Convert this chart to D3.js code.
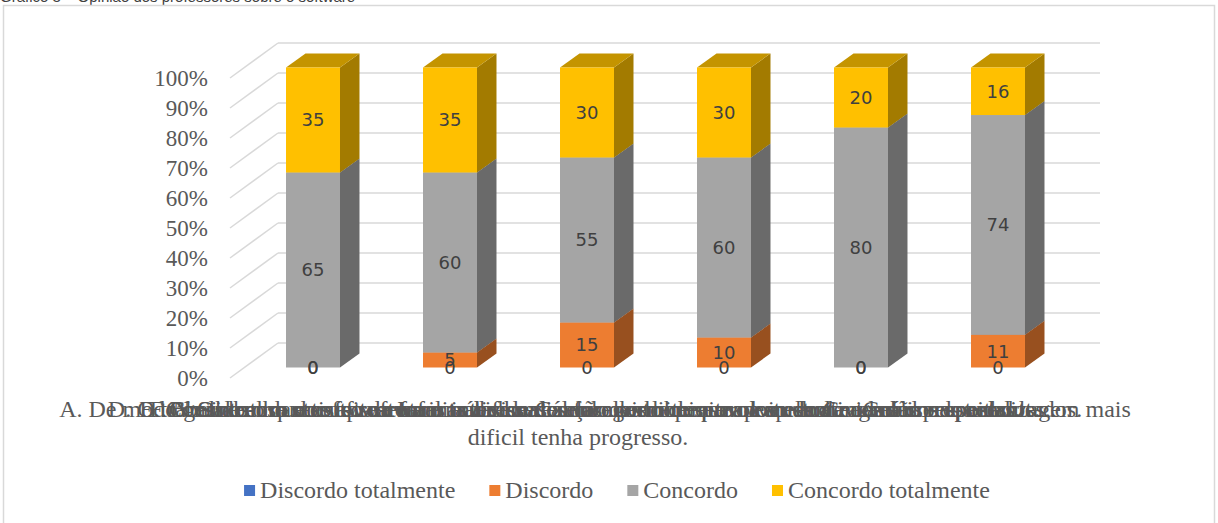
<!DOCTYPE html>
<html>
<head>
<meta charset="utf-8">
<script src="https://cdn.jsdelivr.net/npm/d3@7"></script>
<style>
  body { margin: 0; background: #fff; }
  svg { display: block; }
</style>
</head>
<body>
<div id="chart"></div>
<script>
// chart data
const categories = ["A", "B", "C", "D", "E", "F"];
const categoryLabels = [
  ["A. De modo geral o uso do software nas aulas de Cálculo permite que o estudante com uma aprendizagem mais",
   "dificil tenha progresso."],
  ["B. Sinto-me satisfeito com o trabalho desenvolvido com o apoio do GeoGebra nas aulas."],
  ["C. Os estudantes apresentam interesse e conseguem desenvolver as atividades propostas."],
  ["D. O trabalho com o software facilita a visualização dos conceitos e melhora a análise dos resultados."],
  ["E. Considero que o uso da Informática nas aulas contribui para a aprendizagem dos estudantes."],
  ["F. No trabalho com o software as diferentes formas de pensar dos estudantes são respeitados."]
];
const seriesNames = ["Discordo totalmente", "Discordo", "Concordo", "Concordo totalmente"];
const seriesColors = ["#4472C4", "#ED7D31", "#A5A5A5", "#FFC000"];
const discordoTotalmente = [0, 0, 0, 0, 0, 0];
const discordo = [0, 5, 15, 10, 0, 11];
const concordo = [65, 60, 55, 60, 80, 74];
const concordoTotalmente = [35, 35, 30, 30, 20, 16];
const yTicks = [0, 0.1, 0.2, 0.3, 0.4, 0.5, 0.6, 0.7, 0.8, 0.9, 1];

const W = 1218, H = 523;
const svg = d3.select("#chart").append("svg")
    .attr("width", W)
    .attr("height", H);

// caption cut off at the top of the picture
svg.append("text")
    .attr("x", 0)
    .attr("y", 2)
    .attr("font-family", "Liberation Sans, Arial, sans-serif")
    .attr("font-size", 15)
    .attr("fill", "#404040")
    .text("Gráfico 3 – Opinião dos professores sobre o software");

// chart area border
svg.append("rect")
    .attr("x", 3.5)
    .attr("y", 5.5)
    .attr("width", 1211)
    .attr("height", 530)
    .attr("fill", "#fff")
    .attr("stroke", "#d9d9d9")
    .attr("stroke-width", 1.5);

// 3d geometry
const depth = { dx: 48, dy: -35 };      // full wall depth
const front = { dx: 14.5, dy: -10.5 };   // front plane of the bars
const barDepth = { dx: 19.5, dy: -14 };

const x = d3.scaleBand()
    .domain(categories)
    .range([230, 1052])
    .paddingInner(0.606)
    .paddingOuter(0.303);

const y = d3.scaleLinear().domain([0, 1]).range([378, 78]);

// stacked (100%) data
const rows = categories.map((c, i) => ({
  cat: c,
  "Discordo totalmente": discordoTotalmente[i],
  "Discordo": discordo[i],
  "Concordo": concordo[i],
  "Concordo totalmente": concordoTotalmente[i]
}));
const stacked = d3.stack()
    .keys(seriesNames)
    .offset(d3.stackOffsetExpand)(rows);

// gridlines: diagonal on the side wall, horizontal on the back wall
const grid = svg.append("g");
yTicks.forEach(t => {
  grid.append("line")
      .attr("x1", 230).attr("y1", y(t))
      .attr("x2", 230 + depth.dx).attr("y2", y(t) + depth.dy)
      .attr("stroke", "#d9d9d9").attr("stroke-width", 1.5);
  grid.append("line")
      .attr("x1", 230 + depth.dx).attr("y1", y(t) + depth.dy)
      .attr("x2", 1052 + depth.dx).attr("y2", y(t) + depth.dy)
      .attr("stroke", "#d9d9d9").attr("stroke-width", 1.5);
});

// y tick labels
svg.append("g").selectAll("text")
    .data(yTicks)
    .join("text")
    .attr("x", 208)
    .attr("y", d => y(d))
    .attr("dy", "0.34em")
    .attr("text-anchor", "end")
    .attr("font-family", "Liberation Serif, Times New Roman, serif")
    .attr("font-size", 23)
    .attr("fill", "#595959")
    .text(d3.format(".0%"));

// bars
const shade = (c, k) => {
  const col = d3.rgb(c);
  return d3.rgb(col.r * k, col.g * k, col.b * k).formatHex();
};

const bars = svg.append("g");
categories.forEach((c, i) => {
  const x0 = x(c) + front.dx;
  const x1 = x0 + x.bandwidth();
  stacked.forEach((s, si) => {
    const d = s[i];
    if (d[1] - d[0] <= 0) return;
    const yb = y(d[0]) + front.dy;
    const yt = y(d[1]) + front.dy;
    const col = seriesColors[si];
    // side
    bars.append("path")
        .attr("d", `M${x1},${yb}L${x1 + barDepth.dx},${yb + barDepth.dy}L${x1 + barDepth.dx},${yt + barDepth.dy}L${x1},${yt}Z`)
        .attr("fill", shade(col, 0.64));
    // top
    bars.append("path")
        .attr("d", `M${x0},${yt}L${x1},${yt}L${x1 + barDepth.dx},${yt + barDepth.dy}L${x0 + barDepth.dx},${yt + barDepth.dy}Z`)
        .attr("fill", shade(col, 0.77));
    // front
    bars.append("rect")
        .attr("x", x0)
        .attr("y", yt)
        .attr("width", x.bandwidth())
        .attr("height", yb - yt)
        .attr("fill", col);
  });
});

// data labels
const labels = svg.append("g")
    .attr("font-family", "DejaVu Sans, sans-serif")
    .attr("font-size", 18)
    .attr("fill", "#404040")
    .attr("text-anchor", "middle");
stacked.forEach((s, si) => {
  s.forEach((d, i) => {
    const c = categories[i];
    labels.append("text")
        .attr("x", x(c) + front.dx + x.bandwidth() / 2)
        .attr("y", y((d[0] + d[1]) / 2) + front.dy)
        .attr("dy", "0.36em")
        .text(d.data[seriesNames[si]]);
  });
});

// category labels (they overlap in the original)
const catG = svg.append("g")
    .attr("font-family", "Liberation Serif, Times New Roman, serif")
    .attr("font-size", 24)
    .attr("fill", "#595959")
    .attr("text-anchor", "middle");
categoryLabels.forEach(lines => {
  lines.forEach((line, li) => {
    catG.append("text")
        .attr("x", li === 0 ? 595 : 578)
        .attr("y", 417 + li * 28)
        .text(line);
  });
});

// legend
const legend = svg.append("g")
    .attr("font-family", "Liberation Serif, Times New Roman, serif")
    .attr("font-size", 24)
    .attr("fill", "#595959");
let lx = 0;
seriesNames.forEach((name, i) => {
  const item = legend.append("g").attr("transform", `translate(${lx},0)`);
  item.append("rect")
      .attr("x", 0).attr("y", -5)
      .attr("width", 11).attr("height", 11)
      .attr("fill", seriesColors[i]);
  const t = item.append("text")
      .attr("x", 16)
      .attr("y", 0)
      .attr("dy", "0.34em")
      .text(name);
  lx += 16 + t.node().getComputedTextLength() + 34;
});
const legendWidth = lx - 34;
legend.attr("transform", `translate(${617 - legendWidth / 2},490)`);
</script>
</body>
</html>
